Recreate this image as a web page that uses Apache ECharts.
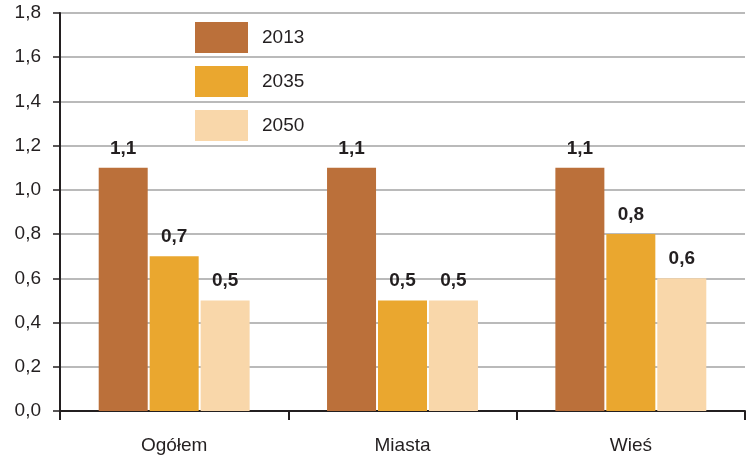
<!DOCTYPE html>
<html>
<head>
<meta charset="utf-8">
<script src="https://cdn.jsdelivr.net/npm/echarts@6/dist/echarts.min.js"></script>
<style>
  html, body { margin: 0; padding: 0; background: #fff; }
  #main { width: 755px; height: 461px; }
</style>
</head>
<body>
<div id="main"></div>
<script>
const categories = ["Ogółem", "Miasta", "Wieś"];
const seriesNames = ["2013", "2035", "2050"];
const values2013 = [1.1, 1.1, 1.1];
const values2035 = [0.7, 0.5, 0.8];
const values2050 = [0.5, 0.5, 0.6];
const colors = ["#BB703A", "#EAA72F", "#F9D7AA"];

const fmt = (v) => v.toFixed(1).replace(".", ",");

const makeSeries = (name, data, color) => ({
  name: name,
  type: "bar",
  data: data,
  barWidth: 49,
  barGap: "4%",
  itemStyle: { color: color },
  label: {
    show: true,
    position: "top",
    distance: 10,
    fontFamily: "Liberation Sans",
    fontWeight: "bold",
    fontSize: 19,
    color: "#231f20",
    formatter: (p) => fmt(p.value),
  },
});

var myChart = echarts.init(document.getElementById("main"));
var option = {
  animation: false,
  grid: { left: 60, right: 10, top: 13, bottom: 50 },
  legend: {
    orient: "vertical",
    left: 190,
    top: 17,
    itemWidth: 53,
    itemHeight: 31,
    itemGap: 13,
    icon: "rect",
    textStyle: { fontFamily: "Liberation Sans", fontSize: 19, color: "#231f20", padding: [0, 0, 0, 9] },
    data: seriesNames,
  },
  xAxis: {
    type: "category",
    data: categories,
    axisLine: { lineStyle: { color: "#231f20", width: 2 } },
    axisTick: { show: true, length: 9, lineStyle: { color: "#231f20", width: 2 } },
    axisLabel: { fontFamily: "Liberation Sans", fontSize: 19, color: "#231f20", margin: 25 },
  },
  yAxis: {
    type: "value",
    min: 0,
    max: 1.8,
    interval: 0.2,
    axisLine: { show: true, lineStyle: { color: "#231f20", width: 2 } },
    axisTick: { show: true, length: 7, lineStyle: { color: "#231f20", width: 1.5 } },
    splitLine: { lineStyle: { color: "#a3a3a3", width: 1.5 } },
    axisLabel: { fontFamily: "Liberation Sans", fontSize: 19, color: "#231f20", margin: 19, formatter: (v) => fmt(v) },
  },
  series: [
    makeSeries(seriesNames[0], values2013, colors[0]),
    makeSeries(seriesNames[1], values2035, colors[1]),
    makeSeries(seriesNames[2], values2050, colors[2]),
  ],
};
myChart.setOption(option);
</script>
</body>
</html>
